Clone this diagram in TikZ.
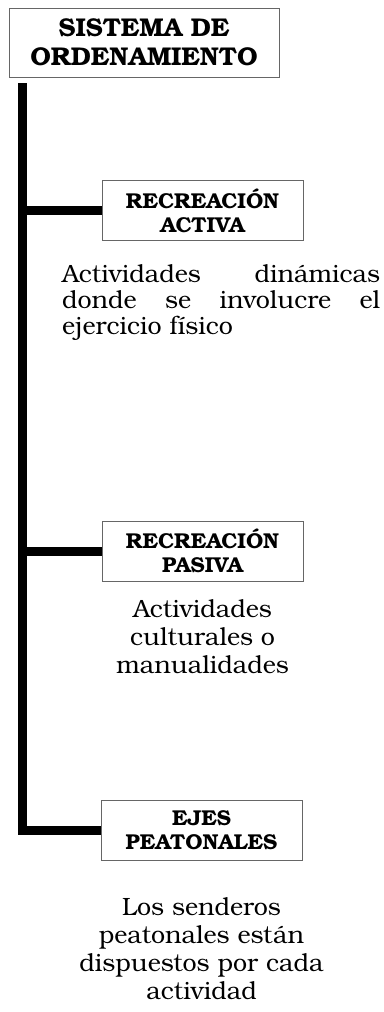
\documentclass[tikz,border=0pt]{standalone}
\usepackage{fontspec}
\setmainfont{texgyrebonum}[Extension=.otf, UprightFont=*-regular, BoldFont=*-bold]
\usepackage{tikz}
\usetikzlibrary{positioning}

\begin{document}
\begin{tikzpicture}[
  x=1pt, y=-1pt,
  titlebox/.style={draw=black!60, line width=0.9pt, align=center, inner sep=0pt,
    minimum width=270pt, minimum height=69pt, font=\fontsize{25.7}{29}\selectfont\bfseries},
  branchbox/.style={draw=black!60, line width=0.9pt, align=center, inner sep=0pt,
    minimum width=201pt, minimum height=60pt, font=\fontsize{21.5}{24}\selectfont\bfseries},
  desc/.style={inner sep=0pt, font=\fontsize{25}{28}\selectfont},
  trunk/.style={line width=9pt, miter limit=10}
]
\useasboundingbox (0,0) rectangle (383,1012);
% main title
\node[titlebox] (sistema) at (144,42.5) {SISTEMA DE\\ORDENAMIENTO};
% branches
\node[branchbox] (activa) at (202.5,210.5) {RECREACIÓN\\ACTIVA};
\node[branchbox] (pasiva) at (202.5,551) {RECREACIÓN\\PASIVA};
\node[branchbox] (ejes) at (201.5,830) {EJES\\PEATONALES};
% descriptions
\node[desc, anchor=north west, text width=318pt, align=justify,
  font=\fontsize{25}{26}\selectfont] (txtactiva) at (62,264.5)
  {Actividades dinámicas\linebreak donde se involucre el\linebreak ejercicio físico};
\node[desc, align=center, below=17.5pt of pasiva] (txtpasiva)
  {Actividades\\culturales o\\manualidades};
\node[desc, align=center, below=36.5pt of ejes] (txtejes)
  {Los senderos\\peatonales están\\dispuestos por cada\\actividad};
% trunk
\coordinate (top) at (22,83);
\draw[trunk] (top) |- (ejes.west);
\draw[trunk] (activa.west) -- (activa.west -| top);
\draw[trunk] (pasiva.west) -- (pasiva.west -| top);
\end{tikzpicture}
\end{document}
